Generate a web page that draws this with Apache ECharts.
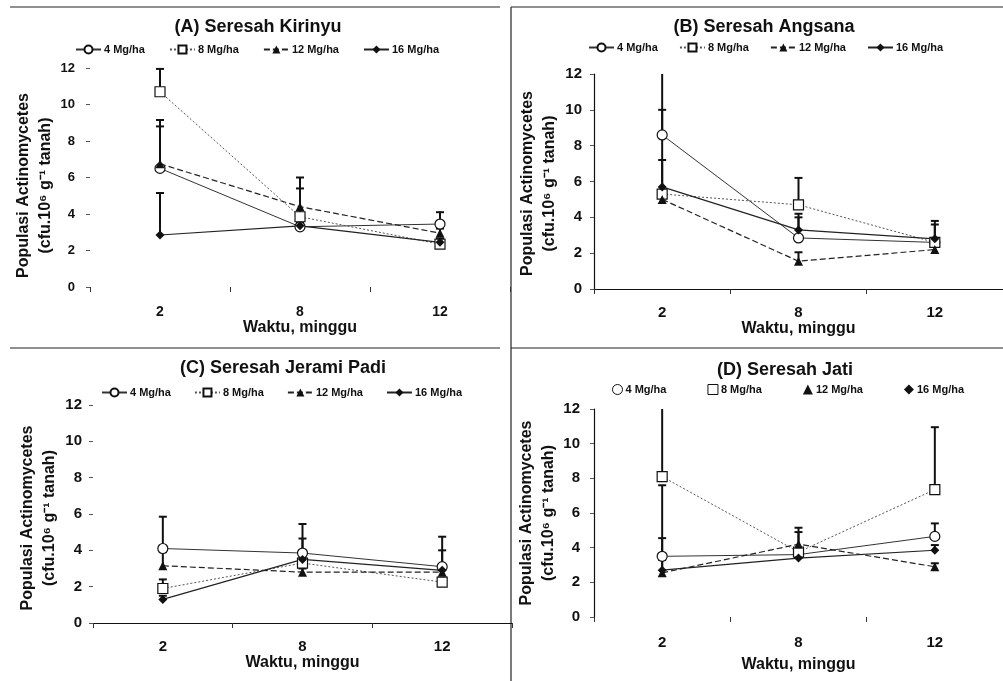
<!DOCTYPE html>
<html>
<head>
<meta charset="utf-8">
<script src="https://cdn.jsdelivr.net/npm/echarts@6/dist/echarts.min.js"></script>
<style>html,body{margin:0;padding:0;background:#fff}#c{width:1003px;height:681px}</style>
</head>
<body>
<div id="c"></div>
<script>
// ---- data ----
const weeks = ['2', '8', '12'];
const doses = ['4 Mg/ha', '8 Mg/ha', '12 Mg/ha', '16 Mg/ha'];
const yMin = 0, yMax = 12, yStep = 2;

// (A) Seresah Kirinyu: rows = 4, 8, 12, 16 Mg/ha ; columns = week 2, 8, 12
const kirinyuMeans  = [[6.5, 3.3, 3.45], [10.7, 3.85, 2.35], [6.75, 4.4, 2.95], [2.85, 3.35, 2.45]];
const kirinyuErrors = [[2.3, 0.2, 0.65], [1.25, 1.55, 0.15], [2.4, 1.6, 0.25], [2.3, 0.2, 0.2]];
// (B) Seresah Angsana
const angsanaMeans  = [[8.6, 2.85, 2.6], [5.3, 4.7, 2.6], [5.0, 1.55, 2.2], [5.7, 3.3, 2.8]];
const angsanaErrors = [[3.6, 1.15, 1.0], [1.9, 1.5, 0.2], [0.2, 0.5, 0.15], [4.3, 0.9, 1.0]];
// (C) Seresah Jerami Padi
const jeramiMeans   = [[4.1, 3.85, 3.1], [1.9, 3.3, 2.25], [3.15, 2.8, 2.8], [1.3, 3.5, 2.9]];
const jeramiErrors  = [[1.75, 1.6, 1.65], [0.5, 0.3, 0.2], [0.75, 0.2, 0.2], [0.2, 1.15, 1.1]];
// (D) Seresah Jati
const jatiMeans     = [[3.5, 3.6, 4.65], [8.1, 3.75, 7.35], [2.55, 4.2, 2.9], [2.7, 3.4, 3.85]];
const jatiErrors    = [[1.05, 0.2, 0.75], [4.5, 1.15, 3.6], [0.75, 0.95, 0.2], [4.9, 0.3, 0.3]];

const titles = ['(A) Seresah Kirinyu', '(B) Seresah Angsana', '(C) Seresah Jerami Padi', '(D) Seresah Jati'];
const xTitle = 'Waktu, minggu';
const yTitle = 'Populasi Actinomycetes\n(cfu.10\u2076 g\u207B\u00B9 tanah)';

// ---- layout / style ----
const FONT = '"Liberation Sans", Arial, sans-serif';
const panels = [
  {means: kirinyuMeans, errs: kirinyuErrors, grid: {left: 90, right: 493, top: 68, bottom: 394},
   title: [258, 27], legend: {left: 70, top: 39, itemGap: 24}, markerLegend: false,
   yLine: false, xLine: false, ySize: 13, xSize: 14, yNameGap: 24, yShift: 16, xNameGap: 30, yMargin: 15, xMargin: 18},
  {means: angsanaMeans, errs: angsanaErrors, grid: {left: 594, right: -9, top: 74, bottom: 392},
   title: [764, 27], legend: {left: 583, top: 37, itemGap: 21}, markerLegend: false,
   yLine: true, xLine: true, ySize: 15, xSize: 15, yNameGap: 33, yShift: 4, xNameGap: 28, yMargin: 12, xMargin: 16},
  {means: jeramiMeans, errs: jeramiErrors, grid: {left: 93, right: 491, top: 405, bottom: 58},
   title: [283, 368], legend: {left: 96, top: 382, itemGap: 23}, markerLegend: false,
   yLine: false, xLine: true, ySize: 15, xSize: 15, yNameGap: 32, yShift: 8, xNameGap: 32, yMargin: 11, xMargin: 16},
  {means: jatiMeans, errs: jatiErrors, grid: {left: 594, right: -6, top: 409, bottom: 64},
   title: [785, 370], legend: {left: 607, top: 379, itemGap: 41}, markerLegend: true,
   yLine: true, xLine: false, ySize: 15, xSize: 15, yNameGap: 33, yShift: 0, xNameGap: 40, yMargin: 14, xMargin: 18}
];

const symbols = ['circle', 'rect', 'triangle', 'diamond'];
const symbolSizes = [10, 10, 9, 9];
const itemStyles = [
  {color: '#fff', borderColor: '#111', borderWidth: 1.2},
  {color: '#fff', borderColor: '#111', borderWidth: 1.2},
  {color: '#111'},
  {color: '#111'}
];
const lineStyles = [
  {type: 'solid', width: 1, color: '#333'},
  {type: [2, 2], width: 1, color: '#555'},
  {type: [6, 3], width: 1.2, color: '#222'},
  {type: 'solid', width: 1.2, color: '#222'}
];

function errRender(params, api) {
  const x = api.value(0), m = api.value(1), t = api.value(2);
  const top = Math.min(t, yMax);
  const p0 = api.coord([x, m]);
  const p1 = api.coord([x, top]);
  const st = {stroke: '#111', lineWidth: 2};
  const ch = [{type: 'line', shape: {x1: p0[0], y1: p0[1], x2: p1[0], y2: p1[1]}, style: st}];
  if (t <= yMax) ch.push({type: 'line', shape: {x1: p1[0] - 4, y1: p1[1], x2: p1[0] + 4, y2: p1[1]}, style: st});
  return {type: 'group', children: ch};
}

const grid = [], xAxis = [], yAxis = [], series = [], legend = [], graphic = [];

panels.forEach((p, gi) => {
  grid.push(Object.assign({containLabel: false}, p.grid));
  xAxis.push({
    type: 'category', gridIndex: gi, data: weeks, boundaryGap: true,
    axisLine: {show: p.xLine, lineStyle: {color: '#111', width: 1.2}},
    axisTick: {show: true, length: 5, lineStyle: {color: '#333'}},
    axisLabel: {color: '#111', fontFamily: FONT, fontWeight: 'bold', fontSize: p.xSize, margin: p.xMargin},
    name: xTitle, nameLocation: 'middle', nameGap: p.xNameGap,
    nameTextStyle: {color: '#111', fontFamily: FONT, fontWeight: 'bold', fontSize: 16}
  });
  yAxis.push({
    type: 'value', gridIndex: gi, min: yMin, max: yMax, interval: yStep,
    splitLine: {show: false},
    axisLine: {show: p.yLine, lineStyle: {color: '#111', width: 1.2}},
    axisTick: {show: true, length: 4, lineStyle: {color: '#555'}},
    axisLabel: {color: '#111', fontFamily: FONT, fontWeight: 'bold', fontSize: p.ySize, margin: p.yMargin},
    name: yTitle, nameLocation: 'middle', nameGap: p.yNameGap, nameRotate: 90,
    nameTextStyle: {color: '#111', fontFamily: FONT, fontWeight: 'bold', fontSize: 16, lineHeight: 22,
      align: 'center', padding: [0, p.yShift, 0, 0]}
  });
  doses.forEach((d, si) => {
    series.push({
      type: 'custom', xAxisIndex: gi, yAxisIndex: gi, z: 1, silent: true,
      renderItem: errRender, encode: {x: 0, y: [1, 2]},
      data: p.means[si].map((m, i) => [i, m, m + p.errs[si][i]])
    });
  });
  doses.forEach((d, si) => {
    series.push({
      type: 'line', name: d, xAxisIndex: gi, yAxisIndex: gi, z: 3,
      data: p.means[si], symbol: symbols[si], symbolSize: symbolSizes[si], showSymbol: true,
      itemStyle: itemStyles[si], lineStyle: lineStyles[si], emphasis: {disabled: true}
    });
  });
  const lg = {
    left: p.legend.left, top: p.legend.top, itemGap: p.legend.itemGap, orient: 'horizontal',
    selectedMode: false, itemWidth: 25, itemHeight: 10,
    textStyle: {color: '#111', fontFamily: FONT, fontWeight: 'bold', fontSize: 11, padding: [0, 0, 0, -2]},
    data: doses.slice()
  };
  if (p.markerLegend) {
    lg.itemWidth = 10;
    lg.data = doses.map((d, si) => ({name: d, icon: ['circle', 'rect', 'triangle', 'diamond'][si],
      itemStyle: si < 2 ? {color: '#fff', borderColor: '#111', borderWidth: 1} : {color: '#111'}}));
  }
  legend.push(lg);
  graphic.push({type: 'text', x: p.title[0], y: p.title[1], silent: true,
    style: {text: titles[gi], align: 'center', verticalAlign: 'middle', fill: '#111',
      font: 'bold 18px ' + FONT}});
});

// panel frame lines
const frameStyle = {stroke: '#222', lineWidth: 1.2};
[[10, 7, 500, 7], [511, 7, 1003, 7], [511, 7, 511, 340], [10, 348, 500, 348], [511, 348, 1003, 348], [511, 340, 511, 681]]
  .forEach(s => graphic.push({type: 'line', silent: true, shape: {x1: s[0], y1: s[1], x2: s[2], y2: s[3]}, style: frameStyle}));

const chart = echarts.init(document.getElementById('c'), null, {renderer: 'canvas'});
chart.setOption({animation: false, backgroundColor: '#fff', grid, xAxis, yAxis, series, legend, graphic});
</script>
</body>
</html>
